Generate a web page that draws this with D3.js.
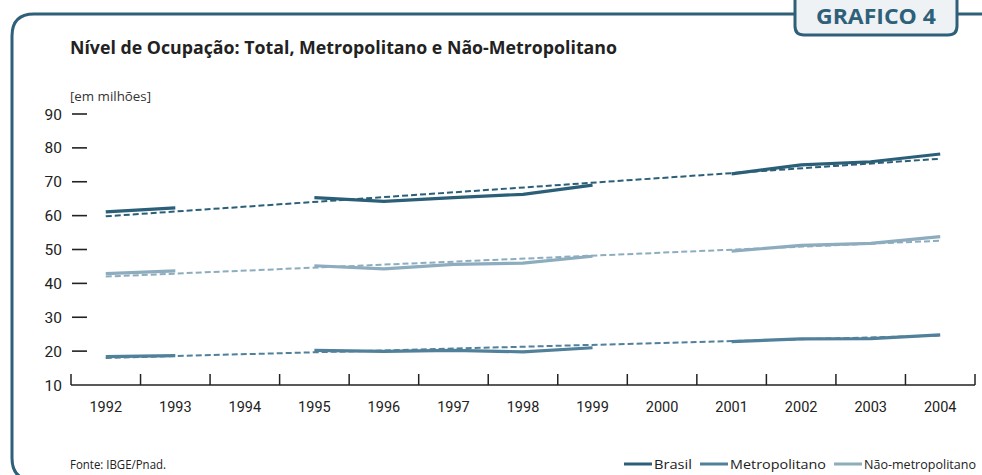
<!DOCTYPE html>
<html><head><meta charset="utf-8">
<script src="https://cdn.jsdelivr.net/npm/d3@7"></script>
<style>body{margin:0;background:#fff}svg{display:block}</style>
</head><body>
<svg id="c" width="982" height="475"></svg>
<script>
const years = ["1992","1993","1994","1995","1996","1997","1998","1999","2000","2001","2002","2003","2004"];
const brasil = [61.1, 62.3, null, 65.3, 64.2, 65.3, 66.3, 69.0, null, 72.3, 75.0, 75.9, 78.2];
const metro = [18.4, 18.7, null, 20.2, 19.9, 20.2, 19.8, 21.0, null, 22.8, 23.6, 23.7, 24.8];
const naoMetro = [42.9, 43.7, null, 45.2, 44.3, 45.6, 46.0, 48.0, null, 49.5, 51.2, 51.8, 53.8];
const trendBrasil = [59.8, 76.8];
const trendMetro = [18.0, 24.6];
const trendNaoMetro = [42.0, 52.6];
const yTicks = [10, 20, 30, 40, 50, 60, 70, 80, 90];
const seriesNames = ["Brasil", "Metropolitano", "Não-metropolitano"];
const colors = ["#2b5f78", "#51809a", "#8dadbf"];

const svg = d3.select("#c");
const frame = "#2f6079";

// frame
svg.append("path").attr("d", "M 795 14 L 34 14 Q 12 14 12 36 L 12 458 Q 12 478 30 480")
  .attr("fill", "none").attr("stroke", frame).attr("stroke-width", 3);
svg.append("line").attr("x1", 957).attr("x2", 982).attr("y1", 14).attr("y2", 14)
  .attr("stroke", frame).attr("stroke-width", 3);
svg.append("path").attr("d", "M 795 -5 L 795 26 Q 795 35 804 35 L 948 35 Q 957 35 957 26 L 957 -5")
  .attr("fill", "#eef2f5").attr("stroke", frame).attr("stroke-width", 3);
svg.append("text").attr("x", 876).attr("y", 24).attr("text-anchor", "middle")
  .attr("font-family", "'Open Sans', sans-serif").attr("font-weight", 700).attr("font-size", 21)
  .attr("fill", "#2f6079").attr("textLength", 120).attr("lengthAdjust", "spacingAndGlyphs").text("GRAFICO 4");

// title
svg.append("text").attr("x", 70).attr("y", 54)
  .attr("font-family", "'Open Sans', sans-serif").attr("font-weight", 700).attr("font-size", 17.5)
  .attr("fill", "#222").attr("textLength", 547).attr("lengthAdjust", "spacingAndGlyphs")
  .text("Nível de Ocupação: Total, Metropolitano e Não-Metropolitano");
svg.append("text").attr("x", 70).attr("y", 101)
  .attr("font-family", "'Open Sans', sans-serif").attr("font-size", 13)
  .attr("fill", "#333").attr("textLength", 81).attr("lengthAdjust", "spacingAndGlyphs")
  .text("[em milhões]");

const x = d3.scaleBand().domain(years).range([71, 975]).padding(0);
const y = d3.scaleLinear().domain([10, 90]).range([385, 114]);
const cx = d => x(d) + x.bandwidth() / 2;

// y axis labels + dashes
const g = svg.append("g");
yTicks.forEach(t => {
  g.append("text").attr("x", 62).attr("y", y(t) + 5.5).attr("text-anchor", "end")
    .attr("font-family", "Roboto, sans-serif").attr("font-size", 15.5).attr("fill", "#222").text(t);
  if (t > 10) g.append("line").attr("x1", 72).attr("x2", 87).attr("y1", y(t)).attr("y2", y(t))
    .attr("stroke", "#222").attr("stroke-width", 1.6);
});

// x axis
g.append("line").attr("x1", 71).attr("x2", 975).attr("y1", 385).attr("y2", 385)
  .attr("stroke", "#222").attr("stroke-width", 1.5);
const bounds = years.map(d => x(d)).concat([975]);
bounds.forEach(b => g.append("line").attr("x1", b).attr("x2", b).attr("y1", 374).attr("y2", 385)
  .attr("stroke", "#222").attr("stroke-width", 1.5));
years.forEach(d => g.append("text").attr("x", cx(d)).attr("y", 412).attr("text-anchor", "middle")
  .attr("font-family", "Roboto, sans-serif").attr("font-size", 14.5).attr("fill", "#222").text(d));

// trend lines
[[trendNaoMetro, colors[2]], [trendMetro, colors[1]], [trendBrasil, colors[0]]].forEach(([t, c]) => {
  svg.append("line").attr("x1", cx(years[0])).attr("x2", cx(years[years.length - 1]))
    .attr("y1", y(t[0])).attr("y2", y(t[1])).attr("stroke", c).attr("stroke-width", 2)
    .attr("stroke-dasharray", "6,3");
});

// series
const line = d3.line().defined(d => d.v != null).x(d => cx(d.k)).y(d => y(d.v)).curve(d3.curveLinear);
[[naoMetro, colors[2]], [metro, colors[1]], [brasil, colors[0]]].forEach(([s, c]) => {
  svg.append("path").datum(years.map((k, i) => ({k, v: s[i]})))
    .attr("d", line).attr("fill", "none").attr("stroke", c).attr("stroke-width", 3.2);
});

// footer
svg.append("text").attr("x", 70).attr("y", 469)
  .attr("font-family", "'Open Sans', sans-serif").attr("font-size", 12.5).attr("fill", "#222")
  .attr("textLength", 96).attr("lengthAdjust", "spacingAndGlyphs").text("Fonte: IBGE/Pnad.");

const legX = [624, 700, 834];
const legW = [38, 96, 112];
seriesNames.forEach((n, i) => {
  svg.append("line").attr("x1", legX[i]).attr("x2", legX[i] + 28).attr("y1", 464).attr("y2", 464)
    .attr("stroke", colors[i]).attr("stroke-width", 3);
  svg.append("text").attr("x", legX[i] + 30).attr("y", 469)
    .attr("font-family", "'Open Sans', sans-serif").attr("font-size", 12.5).attr("fill", "#222")
    .attr("textLength", legW[i]).attr("lengthAdjust", "spacingAndGlyphs").text(n);
});
</script>
</body></html>
